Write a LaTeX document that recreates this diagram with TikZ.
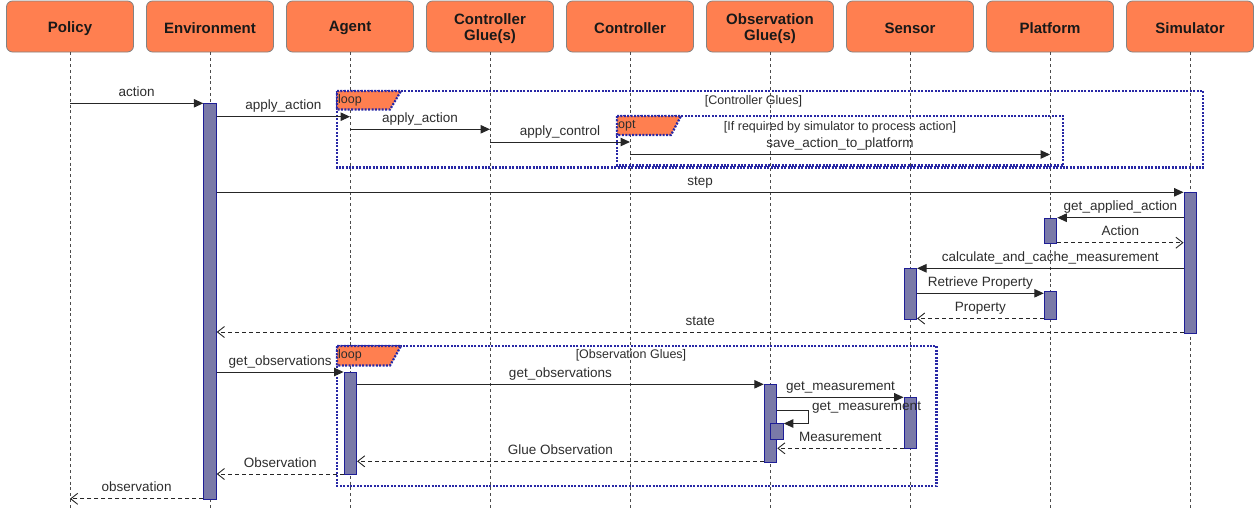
\documentclass[tikz,border=0pt]{standalone}
\usepackage{fontspec}
\setmainfont{Liberation Sans}
\usetikzlibrary{arrows.meta,calc}
\definecolor{HeadFill}{RGB}{255,127,80}
\definecolor{HeadLine}{RGB}{130,130,130}
\definecolor{ActFill}{RGB}{122,122,168}
\definecolor{ActLine}{RGB}{30,30,150}
\definecolor{FrameCol}{RGB}{40,40,165}
\definecolor{TxtCol}{RGB}{45,45,45}
\begin{document}
\begin{tikzpicture}[x=1pt,y=-1pt,
  head/.style={rectangle,rounded corners=6pt,fill=HeadFill,draw=HeadLine,line width=0.8pt,
    minimum width=127pt,minimum height=51pt,inner sep=0pt},
  htxt/.style={inner sep=0pt,align=center,yshift=-1.8pt,
    font=\bfseries\fontsize{15}{16}\selectfont,text=black!90},
  life/.style={draw=black!70,line width=0.7pt,dash pattern=on 3pt off 2.8pt},
  act/.style={rectangle,draw=ActLine,fill=ActFill,line width=1pt,minimum width=12.5pt,inner sep=0pt,anchor=north},
  msg/.style={draw=black!85,line width=1pt,-{Triangle[length=9.5pt,width=8.5pt]}},
  ret/.style={draw=black!85,line width=0.9pt,dash pattern=on 4pt off 3pt,-{Straight Barb[length=7pt,width=11pt]}},
  lbl/.style={font=\fontsize{13.5}{15}\selectfont,text=TxtCol,inner sep=0pt,anchor=base,yshift=7pt},
  frame/.style={draw=FrameCol,line width=2.2pt,dash pattern=on 2pt off 1.4pt},
  ftab/.style={fill=HeadFill,draw=FrameCol,line width=2.2pt,dash pattern=on 2pt off 1.4pt},
  ftxt/.style={font=\fontsize{12.5}{14}\selectfont,text=TxtCol,inner sep=0pt},
  ttxt/.style={font=\fontsize{12.5}{14}\selectfont,text=TxtCol,inner sep=0pt,anchor=west}
]
\useasboundingbox (0,0) rectangle (1254,509);

% headers
\node[head] (policy) at (70,26.5) {};
\node[head] (env) at (210,26.5) {};
\node[head] (agent) at (350,26.5) {};
\node[head] (cglue) at (490,26.5) {};
\node[head] (ctrl) at (630,26.5) {};
\node[head] (oglue) at (770,26.5) {};
\node[head] (sensor) at (910,26.5) {};
\node[head] (plat) at (1050,26.5) {};
\node[head] (sim) at (1190,26.5) {};
\node[htxt] (policyT) at (policy) {Policy};
\node[htxt] (envT) at (env) {Environment};
\node[htxt] (agentT) at (agent) {Agent};
\node[htxt] (cglueT) at (cglue) {Controller\\Glue(s)};
\node[htxt] (ctrlT) at (ctrl) {Controller};
\node[htxt] (oglueT) at (oglue) {Observation\\Glue(s)};
\node[htxt] (sensorT) at (sensor) {Sensor};
\node[htxt] (platT) at (plat) {Platform};
\node[htxt] (simT) at (sim) {Simulator};

% lifelines
\foreach \n/\x in {policy/70,env/210,agent/350,cglue/490,ctrl/630,oglue/770,sensor/910,plat/1050,sim/1190}{
  \coordinate (\n-end) at (\x,509);
  \draw[life] (\n) -- (\n-end);
}

% frames
\draw[frame] (337,91) rectangle (1203,167.5);
\draw[ftab] (337,91) -- (401,91) -- (390,109.5) -- (337,109.5) -- cycle;
\node[ttxt] (loop1) at (338,100) {loop};
\node[ftxt] (f1t) at (753.5,101.5) {[Controller Glues]};

\draw[frame] (617,116) rectangle (1063,165.5);
\draw[ftab] (617,116) -- (681,116) -- (671,135) -- (617,135) -- cycle;
\node[ttxt] (opt1) at (618,126) {opt};
\node[ftxt] (f2t) at (840,127) {[If required by simulator to process action]};

\draw[frame] (337,346) rectangle (936.5,486);
\draw[ftab] (337,346) -- (401,346) -- (390,365.5) -- (337,365.5) -- cycle;
\node[ttxt] (loop2) at (338,355.5) {loop};
\node[ftxt] (f3t) at (631,355) {[Observation Glues]};

% activation bars
\node[act,minimum height=395.5pt] (envA) at (210,103.3) {};
\node[act,minimum height=140.4pt] (simA) at (1190.3,192.3) {};
\node[act,minimum height=25.6pt] (platA1) at (1050.5,217.7) {};
\node[act,minimum height=51pt] (sensA1) at (910.3,268.3) {};
\node[act,minimum height=28.3pt] (platA2) at (1050.5,291) {};
\node[act,minimum height=102pt] (agentA) at (350.3,372) {};
\node[act,minimum height=78pt] (obsA) at (770.5,384.3) {};
\node[act,minimum height=51pt] (sensA2) at (910.3,397.3) {};
\node[act,minimum height=16pt,minimum width=12.6pt] (nestA) at (777,422.7) {};

% row coordinates
\coordinate (r1) at (0,103.3);
\coordinate (r2) at (0,116.7);
\coordinate (r3) at (0,129.3);
\coordinate (r4) at (0,142);
\coordinate (r5) at (0,154.5);
\coordinate (r6) at (0,192.3);
\coordinate (r7) at (0,217.7);
\coordinate (r8) at (0,242.7);
\coordinate (r9) at (0,268.3);
\coordinate (r10) at (0,293.3);
\coordinate (r11) at (0,318.5);
\coordinate (r12) at (0,332);
\coordinate (r13) at (0,372);
\coordinate (r14) at (0,384.3);
\coordinate (r15) at (0,397.3);
\coordinate (r16) at (0,410);
\coordinate (r17) at (0,448.3);
\coordinate (r18) at (0,461.3);
\coordinate (r19) at (0,474);
\coordinate (r20) at (0,498.8);
\coordinate (selfc) at (808,423.5);

% messages
\draw[msg] (policy |- r1) -- node[lbl,midway] {action} (envA.west |- r1);
\draw[msg] (envA.east |- r2) -- node[lbl,midway] {apply\_action} (agent |- r2);
\draw[msg] (agent |- r3) -- node[lbl,midway] {apply\_action} (cglue |- r3);
\draw[msg] (cglue |- r4) -- node[lbl,midway] {apply\_control} (ctrl |- r4);
\draw[msg] (ctrl |- r5) -- node[lbl,midway] {save\_action\_to\_platform} (plat |- r5);
\draw[msg] (envA.east |- r6) -- node[lbl,midway] {step} (simA.west |- r6);
\draw[msg] (simA.west |- r7) -- node[lbl,midway] {get\_applied\_action} (platA1.east |- r7);
\draw[ret] (platA1.east |- r8) -- node[lbl,midway] {Action} (simA.west |- r8);
\draw[msg] (simA.west |- r9) -- node[lbl,midway] {calculate\_and\_cache\_measurement} (sensA1.east |- r9);
\draw[msg] (sensA1.east |- r10) -- node[lbl,midway] {Retrieve Property} (platA2.west |- r10);
\draw[ret] (platA2.west |- r11) -- node[lbl,midway] {Property} (sensA1.east |- r11);
\draw[ret] (simA.west |- r12) -- node[lbl,midway] {state} (envA.east |- r12);
\draw[msg] (envA.east |- r13) -- node[lbl,midway] {get\_observations} (agentA.west |- r13);
\draw[msg] (agentA.east |- r14) -- node[lbl,midway] {get\_observations} (obsA.west |- r14);
\draw[msg] (obsA.east |- r15) -- node[lbl,midway] {get\_measurement} (sensA2.west |- r15);
\draw[msg] (obsA.east |- r16) -| (selfc) -- (nestA.east |- selfc);
\node[lbl,anchor=west,yshift=0pt] (selflbl) at (812,415) {get\_measurement};
\draw[ret] (sensA2.west |- r17) -- node[lbl,midway] {Measurement} (obsA.east |- r17);
\draw[ret] (obsA.west |- r18) -- node[lbl,midway] {Glue Observation} (agentA.east |- r18);
\draw[ret] (agentA.west |- r19) -- node[lbl,midway] {Observation} (envA.east |- r19);
\draw[ret] (envA.west |- r20) -- node[lbl,midway] {observation} (policy |- r20);
\end{tikzpicture}
\end{document}
